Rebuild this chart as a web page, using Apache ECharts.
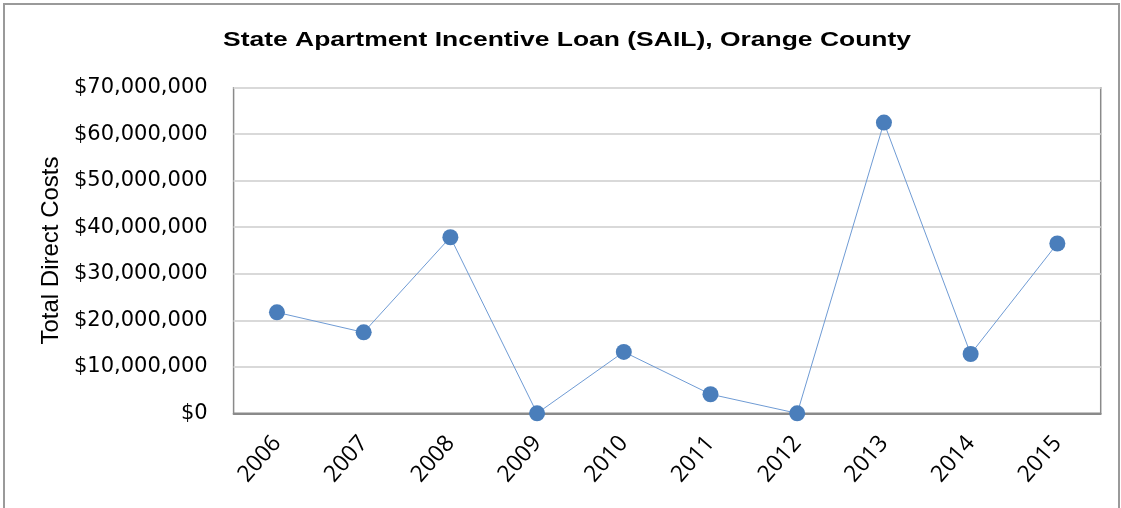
<!DOCTYPE html>
<html>
<head>
<meta charset="utf-8">
<script src="https://cdn.jsdelivr.net/npm/echarts@6/dist/echarts.min.js"></script>
<style>
  html, body { margin: 0; padding: 0; background: #fff; }
  #chart { width: 1121px; height: 508px; }
</style>
</head>
<body>
<div id="chart"></div>
<script>
// SAIL direct costs by year, Orange County
const years = ['2006', '2007', '2008', '2009', '2010', '2011', '2012', '2013', '2014', '2015'];
const totalDirectCosts = [21700000, 17400000, 37850000, 0, 13200000, 4100000, 0, 62500000, 12750000, 36500000];
const yTicks = { min: 0, max: 70000000, interval: 10000000 };
const chartTitle = 'State Apartment Incentive Loan (SAIL), Orange County';

const money = v => '$' + v.toLocaleString('en-US');

const chart = echarts.init(document.getElementById('chart'));
chart.setOption({
  backgroundColor: '#fff',
  animation: false,
  graphic: [{
    // outer chart frame
    type: 'rect',
    shape: { x: 4, y: 4, width: 1115, height: 520 },
    style: { fill: 'none', stroke: '#9a9a9a', lineWidth: 2 },
    silent: true
  }, {
    // wide bold heading
    type: 'text',
    x: 567, y: 40,
    scaleX: 1.26,
    style: {
      text: chartTitle,
      fill: '#000',
      font: 'bold 21px "Liberation Sans", Arial',
      textAlign: 'center',
      textVerticalAlign: 'middle'
    },
    silent: true
  }],
  grid: {
    left: 233.6, right: 20.3, top: 87.7, bottom: 94.7,
    show: true, borderColor: '#8a8a8a', borderWidth: 1.5, backgroundColor: 'transparent'
  },
  xAxis: {
    type: 'category',
    data: years,
    boundaryGap: true,
    axisLine: { show: true, lineStyle: { color: '#8a8a8a', width: 2 } },
    axisTick: { show: false },
    axisLabel: {
      rotate: 49, margin: 26, color: '#000',
      fontFamily: 'Open Sans', fontSize: 23
    }
  },
  yAxis: {
    type: 'value',
    min: yTicks.min, max: yTicks.max, interval: yTicks.interval,
    name: 'Total Direct Costs',
    nameLocation: 'middle',
    nameRotate: 90,
    nameGap: 167,
    nameTextStyle: { fontFamily: 'Liberation Sans, Arial', fontSize: 24, color: '#000' },
    axisLine: { show: false },
    axisTick: { show: false },
    splitLine: { lineStyle: { color: '#d9d9d9', width: 2 } },
    axisLabel: {
      formatter: money, margin: 26, color: '#000',
      fontFamily: 'DejaVu Sans', fontSize: 21
    }
  },
  series: [{
    type: 'line',
    data: totalDirectCosts,
    symbol: 'circle',
    symbolSize: 16,
    lineStyle: { color: '#6f9bd4', width: 1 },
    itemStyle: { color: '#4a7ebb' },
    z: 5
  }]
});
</script>
</body>
</html>
